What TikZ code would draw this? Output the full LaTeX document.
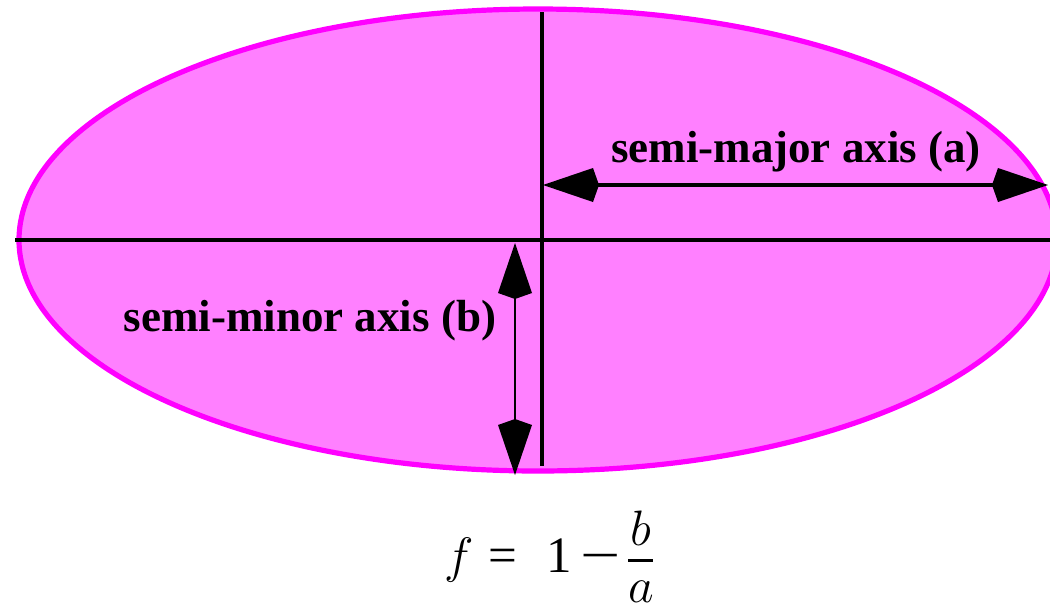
\documentclass[tikz,border=0pt]{standalone}
\usepackage{fontspec}
\setmainfont{Liberation Serif}
\usetikzlibrary{arrows.meta}
\definecolor{ellfill}{RGB}{255,128,255}
\definecolor{ellborder}{RGB}{255,0,255}
\tikzset{
  axisline/.style={line width=2.2pt, black},
  dimarrow/.style={black, {Kite[length=28pt,width=17pt,inset=3pt]}-{Kite[length=28pt,width=17pt,inset=3pt]}},
  axlabel/.style={font=\fontsize{22.5}{26}\selectfont\bfseries, inner sep=0pt},
  formula/.style={font=\fontsize{25.5}{30}\selectfont, inner sep=0pt, anchor=base},
}
\begin{document}
\begin{tikzpicture}[x=0.5pt,y=-0.5pt]
\useasboundingbox (0,0) rectangle (1050,612);
\begin{scope}
\clip (0,0) rectangle (1050,612);
\draw[fill=ellfill, draw=ellborder, line width=2.6pt] (538,240) ellipse [x radius=519, y radius=231];
\end{scope}
% axes
\coordinate (hl) at (15,240);
\coordinate (hr) at (1050,240);
\coordinate (vt) at (542,12);
\coordinate (vb) at (542,466);
\draw[axisline] (hl) -- (hr);
\draw[axisline] (vt) -- (vb);
% semi-major arrow
\coordinate (ma) at (543,185);
\coordinate (mb) at (1048,185);
\draw[dimarrow, line width=1.6pt] (ma) -- (mb);
% semi-minor arrow
\coordinate (na) at (515,243);
\coordinate (nb) at (515,475);
\draw[dimarrow, line width=1pt] (na) -- (nb);
% labels
\node[axlabel] (lmaj) at (796,152) {semi-major axis (a)};
\node[axlabel] (lmin) at (310,321) {semi-minor axis (b)};
% formula
\node[formula] (f) at (459,572) {\fontsize{28}{32}\selectfont$f$};
\node[formula] (eq) at (503,572) {=};
\node[formula] (one) at (559,572) {1};
\node[formula] (minus) at (601,572) {\scalebox{1.4}[1]{−}};
\node[formula] (num) at (641,545) {$b$};
\node[formula] (den) at (641,602) {$a$};
\coordinate (barl) at (628,560);
\coordinate (barr) at (653,560);
\draw[line width=1.5pt] (barl) -- (barr);
\end{tikzpicture}
\end{document}
